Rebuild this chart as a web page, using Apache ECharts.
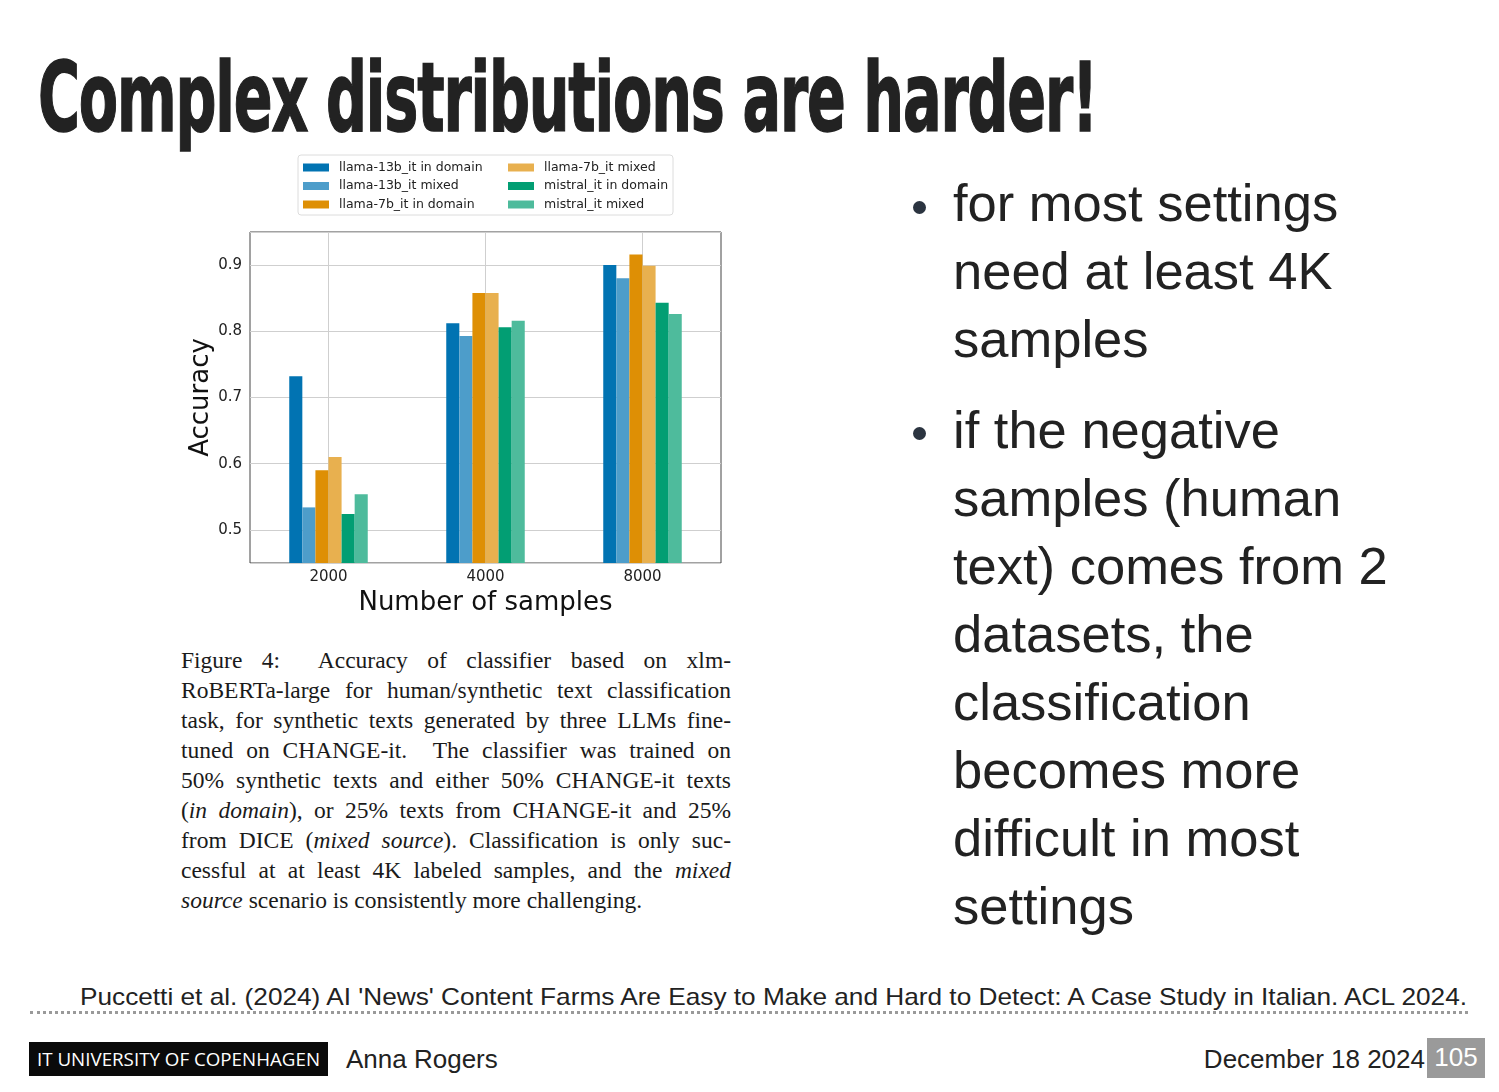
<!DOCTYPE html>
<html>
<head>
<meta charset="utf-8">
<style>
  body { margin: 0; background: #fff; width: 1499px; height: 1092px; position: relative; overflow: hidden; color: #222; }
  .abs { position: absolute; white-space: nowrap; }
  #title { left: 38px; top: 43px; font-family: "DejaVu Sans", sans-serif; font-weight: bold; font-size: 96px; line-height: 110px; color: #222; transform-origin: 0 0; letter-spacing: -2px; -webkit-text-stroke: 1.5px #222; }
  #chart { position: absolute; left: 180px; top: 145px; width: 570px; height: 480px; }
  .para { position: absolute; left: 953px; font-family: "Liberation Sans", Arial, sans-serif; font-size: 52.5px; line-height: 68px; color: #222; white-space: nowrap; }
  .dot { position: absolute; width: 13px; height: 13px; border-radius: 50%; background: #2b3440; }
  #caption { position: absolute; left: 181px; top: 645px; width: 550px; font-family: "Liberation Serif", "Times New Roman", serif; font-size: 23.5px; line-height: 30px; color: #1a1a1a; }
  #caption div { text-align: justify; text-align-last: justify; white-space: nowrap; }
  #caption div.last { text-align-last: left; }
  #cite { left: 80px; top: 982px; font-family: "Liberation Sans", Arial, sans-serif; font-size: 24px; line-height: 30px; color: #222; transform-origin: 0 0; }
  #rule { position: absolute; left: 30px; top: 1011px; width: 1438px; border-top: 3px dotted #9a9a9a; }
  #itu { position: absolute; left: 29px; top: 1042px; width: 299px; height: 34px; background: #0a0a0a; }
  #itu span { position: absolute; left: 8px; top: 5px; color: #fff; font-family: "Open Sans", sans-serif; font-size: 19px; line-height: 24px; white-space: nowrap; transform-origin: 0 0; }
  #author { left: 346px; top: 1043px; font-family: "Liberation Sans", Arial, sans-serif; font-size: 26px; line-height: 32px; color: #222; }
  #date { right: 74px; top: 1043px; font-family: "Liberation Sans", Arial, sans-serif; font-size: 26px; line-height: 32px; color: #222; }
  #page { position: absolute; left: 1427px; top: 1038px; width: 58px; height: 40px; background: #9a9a9a; color: #fff; font-family: "Liberation Sans", Arial, sans-serif; font-size: 26px; line-height: 38px; text-align: center; }
</style>
</head>
<body>
<div id="title" class="abs">Complex distributions are harder!</div>

<div id="chart"></div>

<div id="caption">
  <div>Figure 4:&nbsp; Accuracy of classifier based on xlm-</div>
  <div>RoBERTa-large for human/synthetic text classification</div>
  <div>task, for synthetic texts generated by three LLMs fine-</div>
  <div>tuned on CHANGE-it.&nbsp; The classifier was trained on</div>
  <div>50% synthetic texts and either 50% CHANGE-it texts</div>
  <div>(<i>in domain</i>), or 25% texts from CHANGE-it and 25%</div>
  <div>from DICE (<i>mixed source</i>). Classification is only suc-</div>
  <div>cessful at at least 4K labeled samples, and the <i>mixed</i></div>
  <div class="last"><i>source</i> scenario is consistently more challenging.</div>
</div>

<span class="dot" style="left:913px; top:201px;"></span>
<div class="para" style="top:169px;">for most settings<br>need at least 4K<br>samples</div>
<span class="dot" style="left:913px; top:427px;"></span>
<div class="para" style="top:396px;">if the negative<br>samples (human<br>text) comes from 2<br>datasets, the<br>classification<br>becomes more<br>difficult in most<br>settings</div>

<div id="cite" class="abs">Puccetti et al. (2024) AI 'News' Content Farms Are Easy to Make and Hard to Detect: A Case Study in Italian. ACL 2024.</div>
<div id="rule"></div>

<div id="itu"><span>IT UNIVERSITY OF COPENHAGEN</span></div>
<div id="author" class="abs">Anna Rogers</div>
<div id="date" class="abs">December 18 2024</div>
<div id="page">105</div>

<script src="https://cdn.jsdelivr.net/npm/echarts@6/dist/echarts.min.js"></script>
<script>
// squeeze some text blocks to the width they have on the slide
function fitWidth(el, w) {
    var cur = el.getBoundingClientRect().width;
    if (cur > 0) el.style.transform = 'scaleX(' + (w / cur) + ')';
}
fitWidth(document.getElementById('title'), 1059);
fitWidth(document.getElementById('cite'), 1387);
fitWidth(document.querySelector('#itu span'), 283);

// data
var sampleSizes = ['2000', '4000', '8000'];
var seriesNames = [
    'llama-13b_it in domain', 'llama-13b_it mixed', 'llama-7b_it in domain',
    'llama-7b_it mixed', 'mistral_it in domain', 'mistral_it mixed'
];
var llama13bInDomain = [0.732, 0.812, 0.900];
var llama13bMixed    = [0.534, 0.793, 0.880];
var llama7bInDomain  = [0.590, 0.858, 0.916];
var llama7bMixed     = [0.610, 0.858, 0.899];
var mistralInDomain  = [0.524, 0.806, 0.843];
var mistralMixed     = [0.554, 0.816, 0.826];
var seriesValues = [llama13bInDomain, llama13bMixed, llama7bInDomain, llama7bMixed, mistralInDomain, mistralMixed];
var seriesColors = ['#0173b2', '#4d9dca', '#de8f05', '#e8b04f', '#029e73', '#4ebb9c'];

var tickFont = 'DejaVu Sans';

var myChart = echarts.init(document.getElementById('chart'));

var series = [];
for (var i = 0; i < seriesNames.length; i++) {
    series.push({
        name: seriesNames[i],
        type: 'bar',
        data: seriesValues[i],
        barGap: '0%',
        barCategoryGap: '50%',
        itemStyle: { color: seriesColors[i] }
    });
}

var legendCommon = {
    orient: 'vertical',
    top: 16,
    itemGap: 5.5,
    itemWidth: 26,
    itemHeight: 8,
    icon: 'rect',
    selectedMode: false,
    padding: 0,
    textStyle: { fontFamily: tickFont, fontSize: 12.5, color: '#222', padding: [0, 0, 0, 5] }
};

var option = {
    animation: false,
    grid: {
        left: 70, top: 87, width: 471, height: 331,
        outerBoundsMode: 'none', containLabel: false,
        show: true, borderColor: '#444', borderWidth: 1
    },
    graphic: [{
        type: 'rect',
        shape: { x: 118, y: 10, width: 375, height: 60, r: 3 },
        style: { fill: 'none', stroke: '#dcdcdc', lineWidth: 1 }
    }],
    legend: [
        Object.assign({ left: 123, data: seriesNames.slice(0, 3) }, legendCommon),
        Object.assign({ left: 328, data: seriesNames.slice(3, 6) }, legendCommon)
    ],
    xAxis: {
        type: 'category',
        data: sampleSizes,
        name: 'Number of samples',
        nameLocation: 'middle',
        nameGap: 25,
        nameTextStyle: { fontFamily: tickFont, fontSize: 26, color: '#111' },
        axisLine: { show: false },
        axisTick: { show: false },
        axisLabel: { fontFamily: tickFont, fontSize: 15, color: '#222', margin: 7 },
        splitLine: { show: true, alignWithLabel: true, lineStyle: { color: '#cfcfcf', width: 1 } }
    },
    yAxis: {
        type: 'value',
        min: 0.45,
        max: 0.95,
        name: 'Accuracy',
        nameLocation: 'middle',
        nameGap: 36,
        nameMoveOverlap: false,
        nameTextStyle: { fontFamily: tickFont, fontSize: 26, color: '#111' },
        axisLine: { show: false },
        axisTick: { show: false },
        axisLabel: {
            fontFamily: tickFont, fontSize: 15, color: '#222', margin: 8,
            showMinLabel: false, showMaxLabel: false,
            formatter: function (v) { return v.toFixed(1); }
        },
        splitLine: { show: true, lineStyle: { color: '#cfcfcf', width: 1 } }
    },
    series: series
};

myChart.setOption(option);
</script>
</body>
</html>
